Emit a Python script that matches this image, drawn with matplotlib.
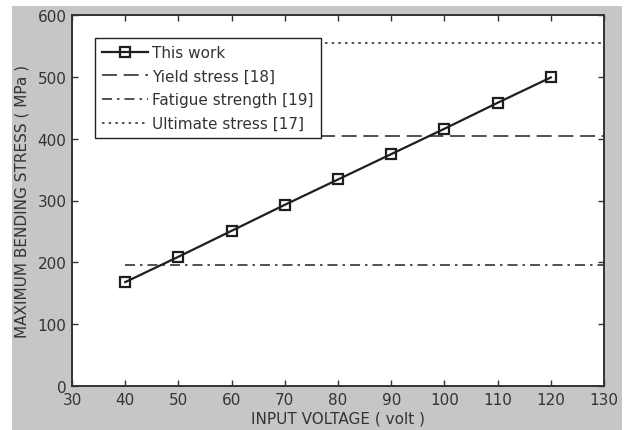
import matplotlib
matplotlib.use("Agg")
import matplotlib.pyplot as plt
from matplotlib.patches import Rectangle

# Data
voltage = [40, 50, 60, 70, 80, 90, 100, 110, 120]
stress = [168, 209, 251, 293, 334, 375, 416, 458, 499]

yield_stress = 405
fatigue_strength = 196
ultimate_stress = 555
ref_span = [40, 130]

x_ticks = [30, 40, 50, 60, 70, 80, 90, 100, 110, 120, 130]
y_ticks = [0, 100, 200, 300, 400, 500, 600]

plt.rcParams['font.family'] = ['DejaVu Sans']
plt.rcParams['font.size'] = 11

fig = plt.figure(figsize=(6.25, 4.31), dpi=100, facecolor='white')
# grey window background
fig.patches.append(Rectangle((12 / 625, 0), (622 - 12) / 625, (431 - 7) / 431,
                             transform=fig.transFigure, facecolor='#c6c6c6',
                             edgecolor='none', zorder=-5))

ax = fig.add_axes([72 / 625, 1 - 387 / 431, 532 / 625, 371 / 431])
ax.set_facecolor('white')

ink = '#1e1e1e'
ax.plot(voltage, stress, color=ink, lw=1.6, marker='s', markersize=7,
        markerfacecolor='none', markeredgecolor=ink, markeredgewidth=1.6,
        label='This work', zorder=3)
ax.plot(ref_span, [yield_stress] * 2, color='#333333', lw=1.2,
        linestyle=(0, (9, 4)), label='Yield stress [18]')
ax.plot(ref_span, [fatigue_strength] * 2, color='#333333', lw=1.2,
        linestyle=(0, (6, 3, 1.5, 3)), label='Fatigue strength [19]')
ax.plot(ref_span, [ultimate_stress] * 2, color='#333333', lw=1.2,
        linestyle=(0, (1.5, 2.5)), label='Ultimate stress [17]')

ax.set_xlim(30, 130)
ax.set_ylim(0, 600)
ax.set_xticks(x_ticks)
ax.set_yticks(y_ticks)
ax.tick_params(direction='in', length=4, width=1, colors='#333333',
               top=True, right=True, labelsize=11, pad=4)
for s in ax.spines.values():
    s.set_color('#333333')
    s.set_linewidth(1.4)

ax.set_xlabel('INPUT VOLTAGE ( volt )', fontsize=11, color='#333333', labelpad=3)
ax.set_ylabel('MAXIMUM BENDING STRESS ( MPa )', fontsize=11, color='#333333', labelpad=6)

leg = ax.legend(loc='upper left', bbox_to_anchor=(0.043, 0.938), borderaxespad=0,
                fancybox=False, framealpha=1, edgecolor='#222222', fontsize=11,
                handlelength=3.0, handletextpad=0.3, labelspacing=0.57,
                borderpad=0.45)
leg.get_frame().set_linewidth(1.0)
leg.set_zorder(5)
for t in leg.get_texts():
    t.set_color('#333333')

fig.savefig('out.png', dpi=100, facecolor=fig.get_facecolor())
